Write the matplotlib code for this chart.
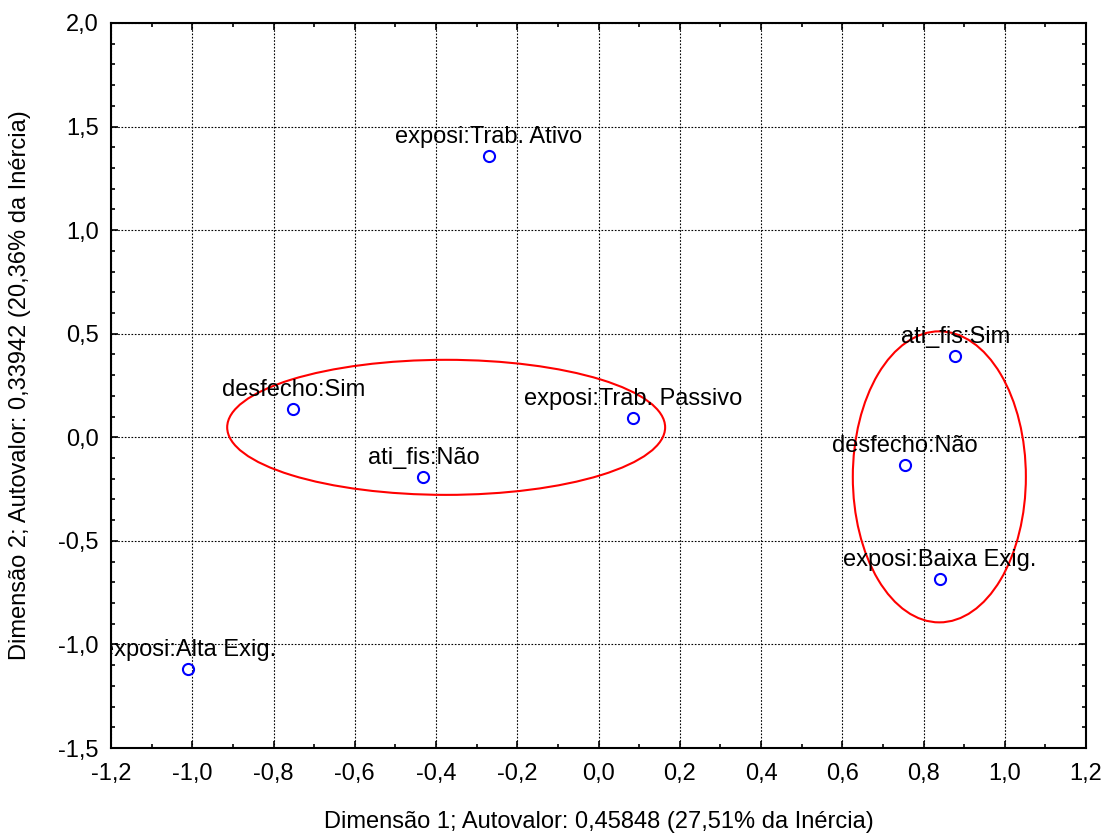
import matplotlib
matplotlib.use("Agg")
import matplotlib.pyplot as plt
from matplotlib.patches import Ellipse
from matplotlib.ticker import MultipleLocator, FuncFormatter

plt.rcParams['font.family'] = ['Liberation Sans', 'DejaVu Sans']

labels = ["exposi:Trab. Ativo", "ati_fis:Sim", "desfecho:Sim", "exposi:Trab. Passivo",
          "ati_fis:Não", "desfecho:Não", "exposi:Baixa Exig.", "exposi:Alta Exig."]
dim1 = [-0.270, 0.878, -0.751, 0.085, -0.431, 0.755, 0.840, -1.010]
dim2 = [1.357, 0.391, 0.135, 0.092, -0.192, -0.135, -0.684, -1.120]

# ellipse annotations: (center x, center y, width, height)
ellipse1 = (-0.375, 0.048, 1.078, 0.652)
ellipse2 = (0.839, -0.191, 0.426, 1.405)

FS = 17

fig = plt.figure(figsize=(11.04, 8.35), dpi=100)
ax = fig.add_axes([111/1104, 1 - 748/835, (1086-111)/1104, (748-23)/835])

ax.plot(dim1, dim2, 'o', mfc='none', mec='#0000ff', ms=8, mew=1.5, zorder=3)
for lab, x, y in zip(labels, dim1, dim2):
    ax.annotate(lab, (x, y), xytext=(0, 6), textcoords='offset points',
                ha='center', va='bottom', fontsize=FS, zorder=4, clip_on=True)

for (cx, cy, w, h) in (ellipse1, ellipse2):
    ax.add_patch(Ellipse((cx, cy), w, h, fill=False, ec='#ff0000', lw=1.5, zorder=2))

ax.set_xlim(-1.2, 1.2)
ax.set_ylim(-1.5, 2.0)
ax.xaxis.set_major_locator(MultipleLocator(0.2))
ax.xaxis.set_minor_locator(MultipleLocator(0.1))
ax.yaxis.set_major_locator(MultipleLocator(0.5))
ax.yaxis.set_minor_locator(MultipleLocator(0.1))
fmt = FuncFormatter(lambda v, p: ("%.1f" % v).replace('.', ',').replace('-0,0', '0,0'))
ax.xaxis.set_major_formatter(fmt)
ax.yaxis.set_major_formatter(fmt)
ax.tick_params(which='both', direction='in', top=True, right=True, labelsize=FS)
ax.tick_params(which='major', length=5, width=1.2)
ax.tick_params(which='minor', length=3, width=1.2)
ax.tick_params(axis='x', which='major', pad=11)
ax.tick_params(axis='y', which='major', pad=9)
ax.grid(True, which='major', linestyle=(0, (1.5, 1.5)), color='black', lw=0.8)
for s in ax.spines.values():
    s.set_linewidth(1.5)

ax.set_xlabel("Dimensão 1; Autovalor: 0,45848 (27,51% da Inércia)", fontsize=FS, va='center')
ax.set_ylabel("Dimensão 2; Autovalor: 0,33942 (20,36% da Inércia)", fontsize=FS, va='center')
ax.xaxis.set_label_coords(0.5, (748 - 822) / 725)
ax.yaxis.set_label_coords((20 - 111) / 975, 0.5)

fig.savefig("out.png", dpi=100)
